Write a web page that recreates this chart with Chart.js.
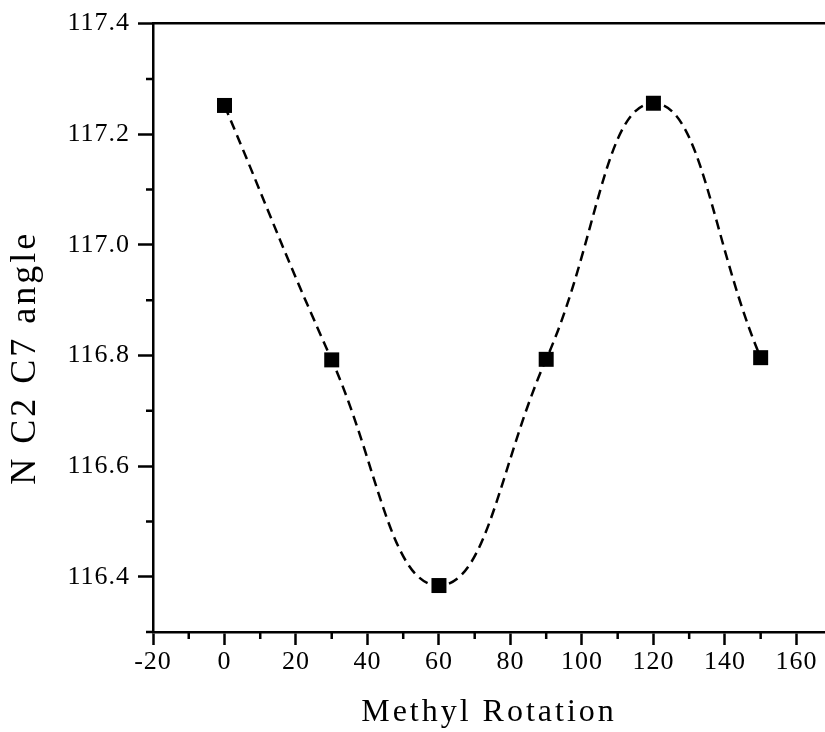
<!DOCTYPE html>
<html><head><meta charset="utf-8">
<script src="https://cdn.jsdelivr.net/npm/chart.js@4/dist/chart.umd.min.js"></script>
<style>html,body{margin:0;padding:0;background:#fff;} #wrap{width:825px;height:732px;position:relative;}</style>
</head><body><div id="wrap"><canvas id="c"></canvas></div>
<script>
// ---- data ----
const rotation = [0, 30, 60, 90, 120, 150];
const angle = [117.252, 116.792, 116.384, 116.793, 117.256, 116.796];
const xTicks = [-20, 0, 20, 40, 60, 80, 100, 120, 140, 160];
const xMinorTicks = [-10, 10, 30, 50, 70, 90, 110, 130, 150];
const yTicks = [116.4, 116.6, 116.8, 117.0, 117.2, 117.4];
const yMinorTicks = [116.3, 116.5, 116.7, 116.9, 117.1, 117.3];
const xTitle = 'Methyl Rotation';
const yTitle = 'N C2 C7 angle';

const FONT = "'Liberation Serif', 'Times New Roman', serif";
const points = rotation.map((x, i) => ({x: x, y: angle[i]}));

const minorTicks = {
  id: 'minorTicks',
  afterDraw(chart) {
    const {ctx, scales: {x, y}} = chart;
    ctx.save();
    ctx.strokeStyle = '#000';
    ctx.lineWidth = 2.5;
    ctx.beginPath();
    xMinorTicks.forEach(v => { const px = x.getPixelForValue(v); ctx.moveTo(px, x.top); ctx.lineTo(px, x.top + 7); });
    yMinorTicks.forEach(v => { const py = y.getPixelForValue(v); ctx.moveTo(y.right, py); ctx.lineTo(y.right - 7, py); });
    ctx.stroke();
    ctx.restore();
  }
};
const spacing = {
  id: 'spacing',
  beforeDraw(chart) { chart.ctx.letterSpacing = '3px'; },
  beforeDatasetsDraw(chart) { chart.ctx.letterSpacing = '1px'; },
  afterDraw(chart) { chart.ctx.letterSpacing = '0px'; }
};

new Chart(document.getElementById('c'), {
  type: 'line',
  data: {
    datasets: [{
      data: points,
      showLine: true,
      borderColor: '#000',
      borderWidth: 2.5,
      borderDash: [10, 6],
      tension: 0.45,
      pointStyle: 'rect',
      pointRadius: 10.6,
      pointBackgroundColor: '#000',
      pointBorderWidth: 0,
      clip: false
    }]
  },
  options: {
    responsive: true,
    maintainAspectRatio: false,
    animation: false,
    events: [],
    layout: {autoPadding: false, padding: {top: 23, left: 0, right: 0, bottom: 0}},
    plugins: {legend: {display: false}, tooltip: {enabled: false}},
    scales: {
      x: {
        type: 'linear', position: 'bottom', min: -20, max: 168,
        afterBuildTicks: s => { s.ticks = xTicks.map(v => ({value: v})); },
        afterFit: s => { s.height = 100; s.paddingLeft = 0; s.paddingRight = 0; },
        ticks: {z: 1, font: {family: FONT, size: 26}, color: '#000', padding: 2, maxRotation: 0, autoSkip: false},
        grid: {drawOnChartArea: false, tickLength: 13, tickWidth: 2.5, tickColor: '#000'},
        border: {color: '#000', width: 2.5},
        title: {display: true, text: xTitle, color: '#000', font: {family: FONT, size: 32}, padding: 0}
      },
      xTop: {
        type: 'linear', position: 'top', min: -20, max: 168,
        afterFit: s => { s.height = 0; s.paddingLeft = 0; s.paddingRight = 0; },
        ticks: {display: false},
        grid: {display: false},
        border: {display: true, color: '#000', width: 2.5}
      },
      y: {
        type: 'linear', position: 'left', min: 116.3, max: 117.4,
        afterBuildTicks: s => { s.ticks = yTicks.map(v => ({value: v})); },
        afterFit: s => { s.width = 153; },
        ticks: {z: 1, font: {family: FONT, size: 26}, color: '#000', padding: 8, callback: v => Number(v).toFixed(1)},
        grid: {drawOnChartArea: false, tickLength: 15, tickWidth: 2.5, tickColor: '#000'},
        border: {color: '#000', width: 2.5},
        title: {display: true, text: yTitle + '     ', color: '#000', font: {family: FONT, size: 36}, padding: {top: 4, bottom: 0}}
      }
    }
  },
  plugins: [minorTicks, spacing]
});
</script>
</body></html>
